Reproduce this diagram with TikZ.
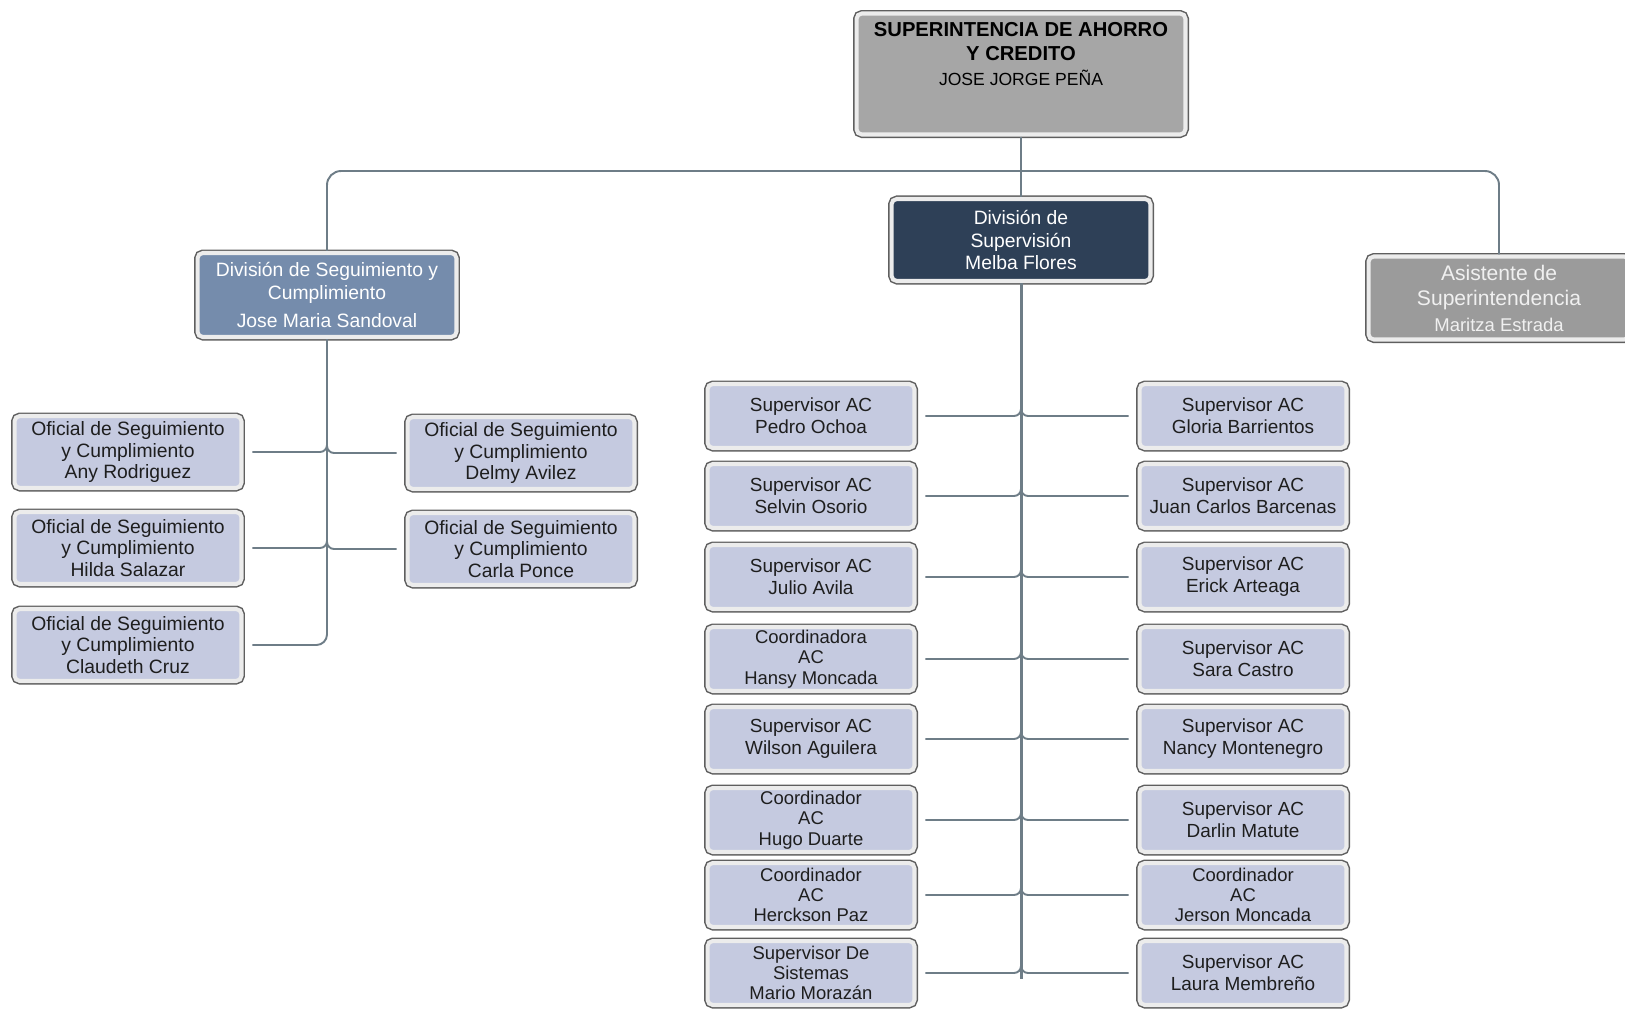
\documentclass[tikz,border=0pt]{standalone}
\usepackage{fontspec}
\setmainfont{Liberation Sans}
\usetikzlibrary{calc}

\definecolor{subfill}{RGB}{197,202,224}
\definecolor{topfill}{RGB}{166,166,166}
\definecolor{navyfill}{RGB}{46,64,87}
\definecolor{steelfill}{RGB}{117,140,172}
\definecolor{asisfill}{RGB}{155,155,155}
\definecolor{boxedge}{RGB}{95,95,95}
\definecolor{boxband}{RGB}{236,236,236}
\definecolor{linkgray}{RGB}{110,125,135}
\definecolor{boxtext}{RGB}{30,30,30}

\tikzset{
  box/.style={rectangle, rounded corners=3pt, align=center, inner sep=1pt,
    preaction={draw=boxedge, line width=4pt}, draw=boxband, line width=2.3pt},
  acbox/.style={box, fill=subfill, text=boxtext, minimum width=4.14cm,
    minimum height=1.28cm, font=\fontsize{10.8}{12.5}\selectfont},
  acthree/.style={acbox, font=\fontsize{10.5}{11.6}\selectfont},
  ofbox/.style={box, fill=subfill, text=boxtext, minimum width=4.54cm,
    minimum height=1.44cm, font=\fontsize{11}{12.3}\selectfont},
  link/.style={draw=linkgray, line width=1.1pt},
  branch/.style={link, rounded corners=4pt, shorten <=5pt},
}

\begin{document}
\begin{tikzpicture}[x=0.02cm,y=-0.02cm]
\newcommand{\tiein}[3]{\draw [branch] (#1.#2) -| ($(#1.#2 -| #3)+(0,-10)$);}
\useasboundingbox (0,0) rectangle (1625,1011);

% head and divisions
\node [box, fill=topfill, text=black, minimum width=6.58cm, minimum height=2.42cm,
  font=\fontsize{11.5}{14}\selectfont] (sup) at (1021,74)
  {\textbf{SUPERINTENCIA DE AHORRO}\\\textbf{Y CREDITO}\\
   {\fontsize{10}{12}\selectfont JOSE JORGE PEÑA}\rule[-23pt]{0pt}{23pt}};
\node [box, fill=navyfill, text=white, minimum width=5.18cm, minimum height=1.64cm,
  font=\fontsize{11}{12.6}\selectfont] (supdiv) at (1021,240)
  {División de\\Supervisión\\Melba Flores};
\node [box, fill=steelfill, text=white, minimum width=5.18cm, minimum height=1.68cm,
  font=\fontsize{11}{13}\selectfont] (segdiv) at (327,295)
  {División de Seguimiento y\\Cumplimiento\\[3pt]Jose Maria Sandoval};
\node [box, fill=asisfill, text=white!94!black, minimum width=5.22cm, minimum height=1.66cm,
  font=\fontsize{12}{14.5}\selectfont] (asis) at (1499,298)
  {Asistente de\\Superintendencia\\{\fontsize{10.5}{12}\selectfont Maritza Estrada}};

\coordinate (bus) at (1021,171);
\coordinate (cend) at (1021,979);
\draw [link, rounded corners=8pt] (segdiv.north) |- (bus) -| (asis.north);
\draw [link] (sup.south)--(supdiv.north);

% seguimiento y cumplimiento
\node [ofbox] (ofi1) at (128,452) {Oficial de Seguimiento\\y Cumplimiento\\Any Rodriguez};
\node [ofbox] (ofi2) at (128,548) {Oficial de Seguimiento\\y Cumplimiento\\Hilda Salazar};
\node [ofbox] (ofi3) at (128,645) {Oficial de Seguimiento\\y Cumplimiento\\Claudeth Cruz};
\node [ofbox] (ofr1) at (521,453) {Oficial de Seguimiento\\y Cumplimiento\\Delmy Avilez};
\node [ofbox] (ofr2) at (521,549) {Oficial de Seguimiento\\y Cumplimiento\\Carla Ponce};

\draw [link, rounded corners=6pt, shorten >=5pt] (segdiv.south) |- (ofi3.east);
\tiein{ofi1}{east}{segdiv.south}
\tiein{ofi2}{east}{segdiv.south}
\tiein{ofr1}{west}{segdiv.south}
\tiein{ofr2}{west}{segdiv.south}

% supervision
\node [acbox] (sv1) at (811,416) {Supervisor AC\\Pedro Ochoa};
\node [acbox] (sv2) at (811,496) {Supervisor AC\\Selvin Osorio};
\node [acbox] (sv3) at (811,577) {Supervisor AC\\Julio Avila};
\node [acthree] (sv4) at (811,659) {Coordinadora\\AC\\Hansy Moncada};
\node [acbox] (sv5) at (811,739) {Supervisor AC\\Wilson Aguilera};
\node [acthree] (sv6) at (811,820) {Coordinador\\AC\\Hugo Duarte};
\node [acthree] (sv7) at (811,895) {Coordinador\\AC\\Herckson Paz};
\node [acthree] (sv8) at (811,973) {Supervisor De\\Sistemas\\Mario Morazán};

\node [acbox] (sr1) at (1243,416) {Supervisor AC\\Gloria Barrientos};
\node [acbox] (sr2) at (1243,496) {Supervisor AC\\Juan Carlos Barcenas};
\node [acbox] (sr3) at (1243,577) {Supervisor AC\\Erick Arteaga};
\node [acbox] (sr4) at (1243,659) {Supervisor AC\\Sara Castro};
\node [acbox] (sr5) at (1243,739) {Supervisor AC\\Nancy Montenegro};
\node [acbox] (sr6) at (1243,820) {Supervisor AC\\Darlin Matute};
\node [acthree] (sr7) at (1243,895) {Coordinador\\AC\\Jerson Moncada};
\node [acbox] (sr8) at (1243,973) {Supervisor AC\\Laura Membreño};

\draw [link, line width=1.7pt] (supdiv.south)--(cend);
\foreach \i in {1,...,8}{
  \tiein{sv\i}{east}{cend}
  \tiein{sr\i}{west}{cend}
}
\end{tikzpicture}
\end{document}
